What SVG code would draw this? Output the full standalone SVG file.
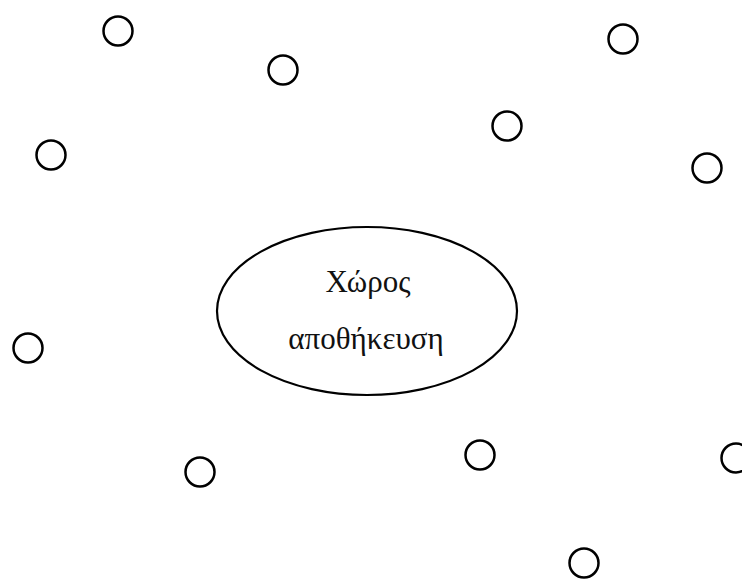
<svg xmlns="http://www.w3.org/2000/svg" width="742" height="579" viewBox="0 0 742 579">
<style>
.c{fill:none;stroke:#000;stroke-width:2.5}
.t{font-family:"Liberation Serif","DejaVu Serif",serif;font-size:31px;fill:#111;text-anchor:middle}
</style>
<rect width="742" height="579" fill="#fff"/>
<g id="storage">
<ellipse cx="367" cy="311" rx="150" ry="84" fill="none" stroke="#000" stroke-width="2.2"/>
<text class="t" x="368" y="292">Χώρος</text>
<text class="t" x="366" y="349">αποθήκευση</text>
</g>
<g id="n1"><circle class="c" cx="118" cy="31" r="14.5"/></g>
<g id="n2"><circle class="c" cx="283" cy="70" r="14.5"/></g>
<g id="n3"><circle class="c" cx="623" cy="39" r="14.5"/></g>
<g id="n4"><circle class="c" cx="507" cy="126" r="14.5"/></g>
<g id="n5"><circle class="c" cx="51" cy="155" r="14.5"/></g>
<g id="n6"><circle class="c" cx="707" cy="168" r="14.5"/></g>
<g id="n7"><circle class="c" cx="28" cy="348" r="14.5"/></g>
<g id="n8"><circle class="c" cx="480" cy="455" r="14.5"/></g>
<g id="n9"><circle class="c" cx="200" cy="472" r="14.5"/></g>
<g id="n10"><circle class="c" cx="736" cy="458" r="14.5"/></g>
<g id="n11"><circle class="c" cx="584" cy="563" r="14.5"/></g>
<g id="connectors"></g>
</svg>
